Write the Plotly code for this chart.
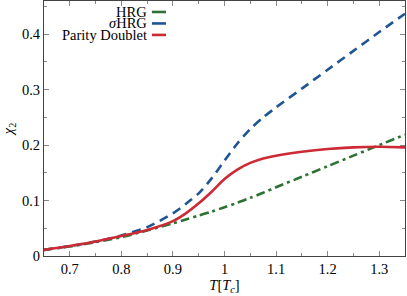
import plotly.graph_objects as go

T = [0.65, 0.70, 0.75, 0.80, 0.85, 0.90, 0.925, 0.95, 0.975, 1.0, 1.025, 1.05, 1.075, 1.10, 1.15, 1.20, 1.25, 1.30, 1.35]
hrg = [0.011, 0.017, 0.025, 0.034, 0.046, 0.059, 0.066, 0.073, 0.080, 0.088, 0.096, 0.105, 0.114, 0.124, 0.143, 0.162, 0.181, 0.200, 0.219]
sigma_hrg = [0.011, 0.018, 0.026, 0.037, 0.052, 0.077, 0.094, 0.113, 0.140, 0.172, 0.203, 0.229, 0.250, 0.268, 0.302, 0.336, 0.370, 0.404, 0.437]
parity = [0.011, 0.018, 0.026, 0.036, 0.047, 0.063, 0.077, 0.095, 0.116, 0.139, 0.156, 0.168, 0.176, 0.181, 0.188, 0.193, 0.196, 0.197, 0.196]

names = ["HRG", "σHRG", "Parity Doublet"]
legend_html = ["HRG", "<i>σ</i>HRG", "Parity Doublet"]
colors = ["#2d7233", "#1f5592", "#cc2a34"]
dashes = ["9px,4px,3px,4px", "9px,6px", "solid"]
series = [hrg, sigma_hrg, parity]

FONT = "Liberation Serif"
FS = 14.5
LFS = 14.5

fig = go.Figure()
for name, ys, c, d in zip(names, series, colors, dashes):
    fig.add_trace(go.Scatter(x=T, y=ys, mode="lines", name=name,
                             line=dict(color=c, width=2.6, dash=d, shape="spline", smoothing=0.8),
                             showlegend=False))

# custom legend: text right-aligned, line sample to the right
leg_y = [0.957, 0.912, 0.867]
for txt, c, yy in zip(legend_html, colors, leg_y):
    fig.add_annotation(xref="paper", yref="paper", x=0.29, y=yy, text=txt,
                       showarrow=False, xanchor="right", yanchor="middle",
                       font=dict(family=FONT, size=LFS, color="black"))
    fig.add_shape(type="line", xref="paper", yref="paper", x0=0.299, x1=0.338, y0=yy, y1=yy,
                  line=dict(color=c, width=2.6))

axis_common = dict(showgrid=False, zeroline=False, showline=True, linecolor="#444", linewidth=1,
                   ticks="inside", ticklen=5, tickcolor="#888", mirror="ticks",
                   tickfont=dict(family=FONT, size=FS, color="black"))

fig.update_xaxes(range=[0.65, 1.35], tickvals=[0.7, 0.8, 0.9, 1.0, 1.1, 1.2, 1.3],
                 ticktext=["0.7", "0.8", "0.9", "1", "1.1", "1.2", "1.3"],
                 minor=dict(dtick=0.05, tick0=0.65, ticks="inside", ticklen=3, tickcolor="#888"),
                 title=dict(text="<i>T</i>[<i>T</i><sub><i>c</i></sub>]", font=dict(family=FONT, size=FS), standoff=3),
                 **axis_common)
fig.update_yaxes(range=[0, 0.46], tickvals=[0, 0.1, 0.2, 0.3, 0.4],
                 ticktext=["0", "0.1", "0.2", "0.3", "0.4"],
                 minor=dict(dtick=0.05, tick0=0, ticks="inside", ticklen=3, tickcolor="#888"),
                 title=dict(text="<i>χ</i><sub>2</sub>", font=dict(family=FONT, size=FS), standoff=16),
                 **axis_common)

fig.update_layout(width=407, height=296, margin=dict(l=44, r=2, t=1, b=40, autoexpand=False),
                  plot_bgcolor="white", paper_bgcolor="white",
                  font=dict(family=FONT, size=FS, color="black"))

fig.write_html("out.html", config={"displayModeBar": False},
               post_script="document.body.style.margin='0';document.body.style.overflow='hidden';")
